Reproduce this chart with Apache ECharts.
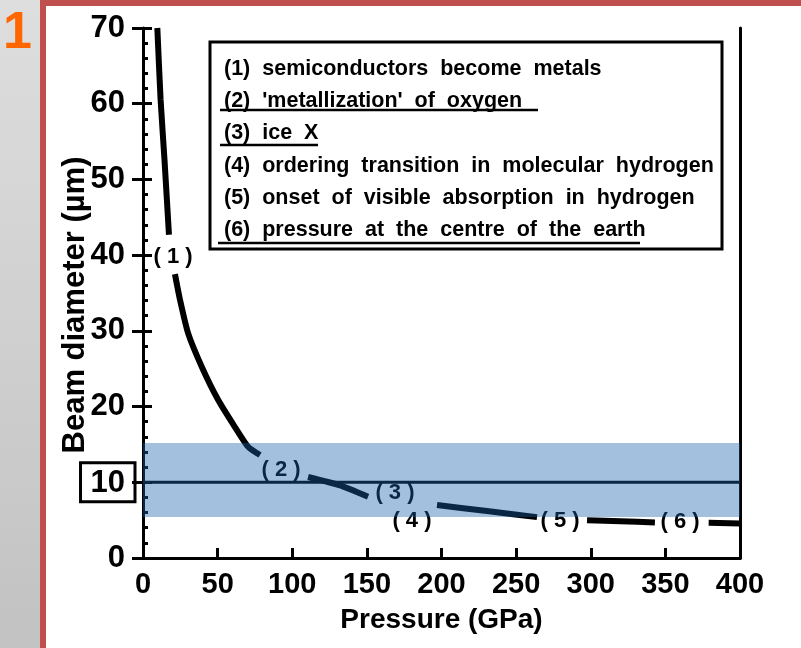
<!DOCTYPE html>
<html>
<head>
<meta charset="utf-8">
<script src="https://cdn.jsdelivr.net/npm/echarts@6/dist/echarts.min.js"></script>
<style>
html,body{margin:0;padding:0;background:#fff;}
#c{width:801px;height:648px;}
</style>
</head>
<body>
<div id="c"></div>
<script>
// ---- data ----
const pressure = [9.6, 11.8, 14.4, 17.4, null, 21.4, 24.8, 30.2, 39.5, 50.3, 61.6, 70.4, 78.4, null, 110.6, 132, 150.8, null, 197, 230.5, 264, null, 297.5, 320, 343, null, 379, 400];
const diameter = [70, 60.5, 52.6, 42.7, null, 37.5, 34.1, 29.7, 25.2, 20.9, 17.3, 14.7, 13.6, null, 10.7, 9.6, 8.1, null, 7.0, 6.2, 5.4, null, 5.0, 4.85, 4.7, null, 4.65, 4.55];
const beamLine = [10, 10];
const beamLineP = [0, 400];
const bandRange = [5.4, 15.2];
const markText = ['(1)', '(2)', '(3)', '(4)', '(5)', '(6)'];
const markP = [20.1, 92.5, 168.8, 180.2, 279.4, 359.8];
const markD = [39.8, 11.6, 8.6, 4.9, 4.9, 4.75];
const legendLines = [
  '(1)  semiconductors  become  metals',
  "(2)  'metallization'  of  oxygen",
  '(3)  ice  X',
  '(4)  ordering  transition  in  molecular  hydrogen',
  '(5)  onset  of  visible  absorption  in  hydrogen',
  '(6)  pressure  at  the  centre  of  the  earth'
];
const underlined = [false, true, true, false, false, true];
const xTicks = [0, 50, 100, 150, 200, 250, 300, 350, 400];
const yTicks = [0, 10, 20, 30, 40, 50, 60, 70];

const FONT = 'Liberation Sans, Arial, sans-serif';
const chart = echarts.init(document.getElementById('c'), null, {renderer: 'canvas'});

const curveData = pressure.map((p, i) => p == null ? ['-', '-'] : [p, diameter[i]]);
const lineData = beamLineP.map((p, i) => [p, beamLine[i]]);
const markData = markP.map((p, i) => ({value: [p, markD[i]], name: markText[i]}));

// legend box graphics
const legendTop = [69, 101, 133, 166, 198, 230];
const underlineY = [0, 110, 145, 0, 0, 243];
const underlineX = [[0,0],[220,538],[220,318],[0,0],[0,0],[218,640]];
const graphics = [
  {type:'rect', shape:{x:0, y:0, width:40, height:648}, style:{fill: new echarts.graphic.LinearGradient(0,0,0,1,[{offset:0,color:'#dedede'},{offset:1,color:'#c2c2c2'}])}, z:1},
  {type:'rect', shape:{x:40, y:0, width:6, height:648}, style:{fill:'#c0504d'}, z:2},
  {type:'rect', shape:{x:40, y:0, width:761, height:6}, style:{fill:'#c0504d'}, z:2},
  {type:'text', style:{text:'1', x:3, y:8, font:'bold 52px ' + FONT, fill:'#ff6600'}, z:3},
  {type:'rect', shape:{x:210, y:42, width:512, height:207}, style:{fill:'#fff', stroke:'#000', lineWidth:3}, z:50}
];
legendLines.forEach((t, i) => {
  graphics.push({type:'text', style:{text:t, x:224, y:legendTop[i], font:'bold 21.5px ' + FONT, fill:'#000', verticalAlign:'middle'}, z:51});
  if (underlined[i]) {
    graphics.push({type:'line', shape:{x1:underlineX[i][0], y1:underlineY[i], x2:underlineX[i][1], y2:underlineY[i]}, style:{stroke:'#000', lineWidth:2.5}, z:51});
  }
});

const axisCommon = {min:0, max:70, interval:10};
chart.setOption({
  backgroundColor:'#fff',
  animation:false,
  grid:{left:143, right:61, top:28, bottom:90},
  xAxis:[
    {type:'value', min:0, max:400, interval:50, position:'bottom',
     axisLine:{lineStyle:{color:'#000', width:3}},
     axisTick:{inside:true, length:10, lineStyle:{color:'#000', width:3}},
     axisLabel:{color:'#000', fontSize:29, fontWeight:'bold', fontFamily:FONT, margin:12,
       formatter: v => xTicks.includes(v) ? String(v) : ''},
     splitLine:{show:false},
     name:'Pressure (GPa)', nameLocation:'middle', nameGap:48, nameMoveOverlap:false,
     nameTextStyle:{color:'#000', fontSize:28, fontWeight:'bold', fontFamily:FONT}},
    {type:'value', min:0, max:400, position:'top',
     axisLine:{show:true, lineStyle:{color:'#000', width:3}},
     axisTick:{show:false}, axisLabel:{show:false}, splitLine:{show:false}}
  ],
  yAxis:[
    Object.assign({type:'value', position:'left',
     axisLine:{show:true, lineStyle:{color:'#000', width:3}},
     axisTick:{show:true, inside:false, length:11, lineStyle:{color:'#000', width:3}},
     axisLabel:{margin:8, formatter: v => !yTicks.includes(v) ? '' : (v === 10 ? '{b|10}' : '{n|' + v + '}'),
       rich:{
         n:{color:'#000', fontSize:31, fontWeight:'bold', fontFamily:FONT, padding:[0,10,0,0]},
         b:{color:'#000', fontSize:31, fontWeight:'bold', fontFamily:FONT, borderColor:'#000', borderWidth:3, padding:[5,10,3,10]}
       }},
     splitLine:{show:false},
     name:'Beam diameter (µm)', nameLocation:'middle', nameGap:52, nameRotate:90, nameMoveOverlap:false,
     nameTextStyle:{color:'#000', fontSize:31, fontWeight:'bold', fontFamily:FONT, padding:[0,24,0,0]}}, axisCommon),
    Object.assign({type:'value', position:'left', offset:0,
     axisLine:{show:false},
     axisTick:{show:true, inside:true, length:9, lineStyle:{color:'#000', width:3}},
     minorTick:{show:true, splitNumber:5, length:5, lineStyle:{color:'#000', width:3}},
     axisLabel:{show:false}, splitLine:{show:false}}, axisCommon),
    Object.assign({type:'value', position:'right',
     axisLine:{show:true, lineStyle:{color:'#000', width:3}},
     axisTick:{show:false}, axisLabel:{show:false}, splitLine:{show:false}}, axisCommon)
  ],
  graphic: graphics,
  series:[
    {type:'line', data: curveData, xAxisIndex:0, yAxisIndex:0, showSymbol:false, connectNulls:false, smooth:0.2,
     lineStyle:{color:'#000', width:6, cap:'butt'}, z:2, silent:true},
    {type:'line', data: lineData, showSymbol:false,
     lineStyle:{color:'#000', width:3}, z:2, silent:true},
    {type:'scatter', data: markData, symbolSize:0, z:2, silent:true, itemStyle:{opacity:1, color:'#000'},
     label:{show:true, position:'inside', opacity:1, formatter: p => p.name.split('').join(' '),
       color:'#000', fontSize:22, fontWeight:'bold', fontFamily:FONT, textBorderWidth:0}},
    {type:'line', data:[], z:20, silent:true,
     markArea:{silent:true, z:20, itemStyle:{color:'rgba(25,100,175,0.4)'},
       data:[[{xAxis:0, yAxis:bandRange[0]}, {xAxis:400, yAxis:bandRange[1]}]]}}
  ]
});
</script>
</body>
</html>
